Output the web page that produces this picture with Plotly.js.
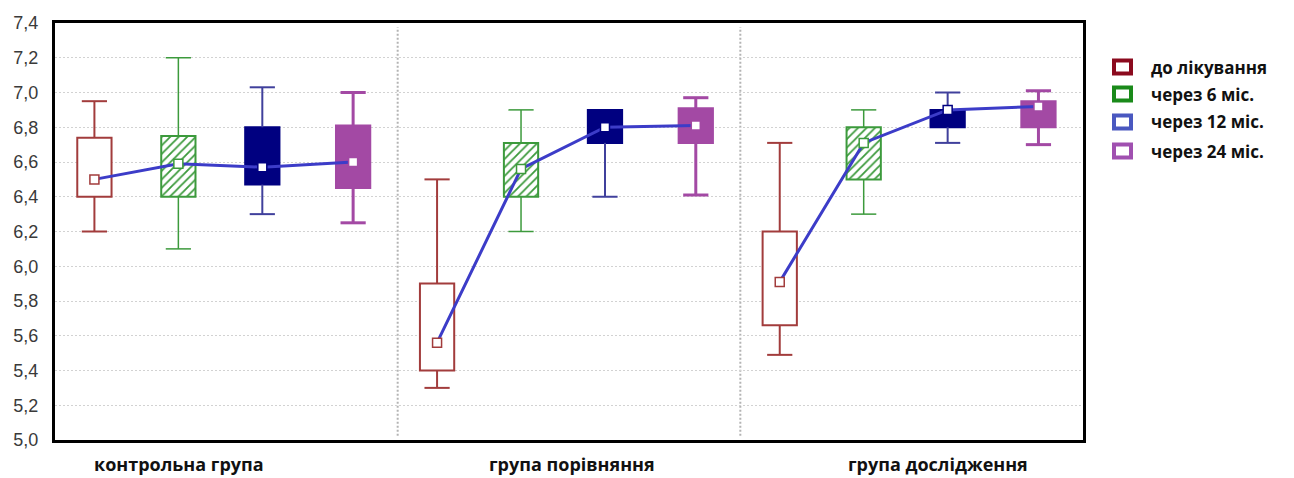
<!DOCTYPE html>
<html>
<head>
<meta charset="utf-8">
<script src="https://cdn.plot.ly/plotly-3.0.1.min.js"></script>
<style>
  html, body { margin: 0; padding: 0; background: #ffffff; }
  #chart { width: 1294px; height: 478px; }
</style>
</head>
<body>
<div id="chart"></div>
<script>
// Groups along the x axis and the four follow-up points inside each group
const groups = ['контрольна група', 'група порівняння', 'група дослідження'];
const periods = ['до лікування', 'через 6 міс.', 'через 12 міс.', 'через 24 міс.'];

// Box statistics, one row per period, one value per group
const whiskerLow  = [[6.20, 5.30, 5.49], [6.10, 6.20, 6.30], [6.30, 6.40, 6.71], [6.25, 6.41, 6.70]];
const quart1      = [[6.40, 5.40, 5.66], [6.40, 6.40, 6.50], [6.47, 6.71, 6.80], [6.45, 6.71, 6.80]];
const medianVals  = [[6.50, 5.56, 5.91], [6.59, 6.56, 6.71], [6.57, 6.80, 6.90], [6.60, 6.81, 6.92]];
const quart3      = [[6.74, 5.90, 6.20], [6.75, 6.71, 6.80], [6.80, 6.90, 6.90], [6.81, 6.91, 6.95]];
const whiskerHigh = [[6.95, 6.50, 6.71], [7.20, 6.90, 6.90], [7.03, 6.90, 7.00], [7.00, 6.97, 7.01]];

// Styling per period
const slotOffset = [0.115, 0.36, 0.605, 0.87];
const boxWidth = 0.1;
const edgeColor = ['#a23c3c', '#3c9a3c', '#000080', '#a349a4'];
const whiskColor = ['#a23c3c', '#3c9a3c', '#40409c', '#a349a4'];
const whiskWidth = [2, 1.5, 2, 3];
const legendColor = ['#8b0a1e', '#1a8a1a', '#4a58c0', '#a050b0'];
const labelShift = [0.363, 0.509, 0.577];

const xPos = k => groups.map((g, i) => i + slotOffset[k]);

const traces = [];

// Boxes (25%-75%) as floating bars
periods.forEach((p, k) => {
  const bar = {
    type: 'bar',
    name: p,
    x: xPos(k),
    base: quart1[k],
    y: quart3[k].map((v, i) => v - quart1[k][i]),
    width: boxWidth,
    showlegend: false,
    hoverinfo: 'skip',
    marker: { color: '#ffffff', line: { color: edgeColor[k], width: 2 } }
  };
  if (k === 1) {
    bar.marker.pattern = { shape: '/', fgcolor: '#3c9a3c', bgcolor: '#ffffff', size: 6, solidity: 0.3 };
  } else if (k >= 2) {
    bar.marker.color = edgeColor[k];
  }
  traces.push(bar);
});

// Whisker stems and end caps
periods.forEach((p, k) => {
  const xs = [], ys = [], capX = [], capY = [];
  xPos(k).forEach((x, i) => {
    if (whiskerHigh[k][i] > quart3[k][i]) {
      xs.push(x, x, null); ys.push(quart3[k][i], whiskerHigh[k][i], null);
      capX.push(x); capY.push(whiskerHigh[k][i]);
    }
    if (whiskerLow[k][i] < quart1[k][i]) {
      xs.push(x, x, null); ys.push(quart1[k][i], whiskerLow[k][i], null);
      capX.push(x); capY.push(whiskerLow[k][i]);
    }
  });
  traces.push({
    type: 'scatter', mode: 'lines', x: xs, y: ys, showlegend: false, hoverinfo: 'skip',
    line: { color: whiskColor[k], width: whiskWidth[k] }
  });
  traces.push({
    type: 'scatter', mode: 'markers', x: capX, y: capY, showlegend: false, hoverinfo: 'skip',
    marker: { symbol: 'line-ew-open', size: 18, color: whiskColor[k],
              line: { color: whiskColor[k], width: whiskWidth[k] } }
  });
});

// Trend line through the medians within each group
const trendX = [], trendY = [];
groups.forEach((g, i) => {
  periods.forEach((p, k) => { trendX.push(i + slotOffset[k]); trendY.push(medianVals[k][i]); });
  trendX.push(null); trendY.push(null);
});
traces.push({
  type: 'scatter', mode: 'lines', x: trendX, y: trendY, showlegend: false, hoverinfo: 'skip',
  line: { color: '#3c3cc8', width: 3 }
});

// Median markers
periods.forEach((p, k) => {
  traces.push({
    type: 'scatter', mode: 'markers', name: p, x: xPos(k), y: medianVals[k],
    showlegend: false, hoverinfo: 'skip',
    marker: { symbol: 'square', size: 9, color: '#ffffff', line: { color: edgeColor[k], width: 1.5 } }
  });
});

// Plot geometry in pixels, used for the legend and group captions
const W = 1294, H = 478;
const M = { l: 55, r: 211, t: 23, b: 38 };
const pw = W - M.l - M.r, ph = H - M.t - M.b;
const px2x = px => (px - M.l) / pw;
const py2y = py => (H - M.b - py) / ph;

const shapes = [];
const annotations = [];

// Dotted separators between groups
[1, 2].forEach(v => shapes.push({
  type: 'line', xref: 'x', yref: 'paper', x0: v, x1: v, y0: 0.01, y1: 0.99,
  line: { color: '#b4b4b4', width: 2, dash: '2px,2px' }, layer: 'below'
}));

// Group captions under the axis
groups.forEach((g, i) => annotations.push({
  xref: 'x', yref: 'paper', x: i + labelShift[i], y: py2y(464), xanchor: 'center', yanchor: 'middle',
  text: g, showarrow: false,
  font: { family: '"Open Sans", sans-serif', size: 18, color: '#111111', weight: 'bold' }
}));

// Legend
const legRows = [67, 94, 122, 151];
periods.forEach((p, k) => {
  const cy = legRows[k];
  shapes.push({
    type: 'rect', xref: 'paper', yref: 'paper',
    x0: px2x(1114), x1: px2x(1131), y0: py2y(cy + 6.5), y1: py2y(cy - 6.5),
    line: { color: legendColor[k], width: 4 }, fillcolor: '#ffffff'
  });
  annotations.push({
    xref: 'paper', yref: 'paper', x: px2x(1149), y: py2y(cy), xanchor: 'left', yanchor: 'middle',
    text: p, showarrow: false,
    font: { family: '"Open Sans", sans-serif', size: 17, color: '#111111', weight: 'bold' }
  });
});

const layout = {
  width: W, height: H,
  margin: M,
  paper_bgcolor: '#ffffff', plot_bgcolor: '#ffffff',
  separators: ', ',
  barmode: 'overlay',
  hovermode: false,
  showlegend: false,
  xaxis: {
    range: [0, 3],
    showticklabels: false,
    ticks: '',
    showgrid: false, zeroline: false,
    showline: true, linecolor: '#000000', linewidth: 3, mirror: true
  },
  yaxis: {
    range: [5.0, 7.4],
    dtick: 0.2, tick0: 5.0,
    tickformat: '.1f',
    ticks: '',
    ticklabelstandoff: 10,
    tickfont: { family: '"Liberation Sans", Arial, sans-serif', size: 18, color: '#3a3a3a' },
    showgrid: true, gridcolor: '#d2d2d2', gridwidth: 1, griddash: '2px,2px',
    zeroline: false,
    showline: true, linecolor: '#000000', linewidth: 3, mirror: true
  },
  shapes: shapes,
  annotations: annotations
};

Plotly.newPlot('chart', traces, layout, { staticPlot: true, displayModeBar: false });
</script>
</body>
</html>
